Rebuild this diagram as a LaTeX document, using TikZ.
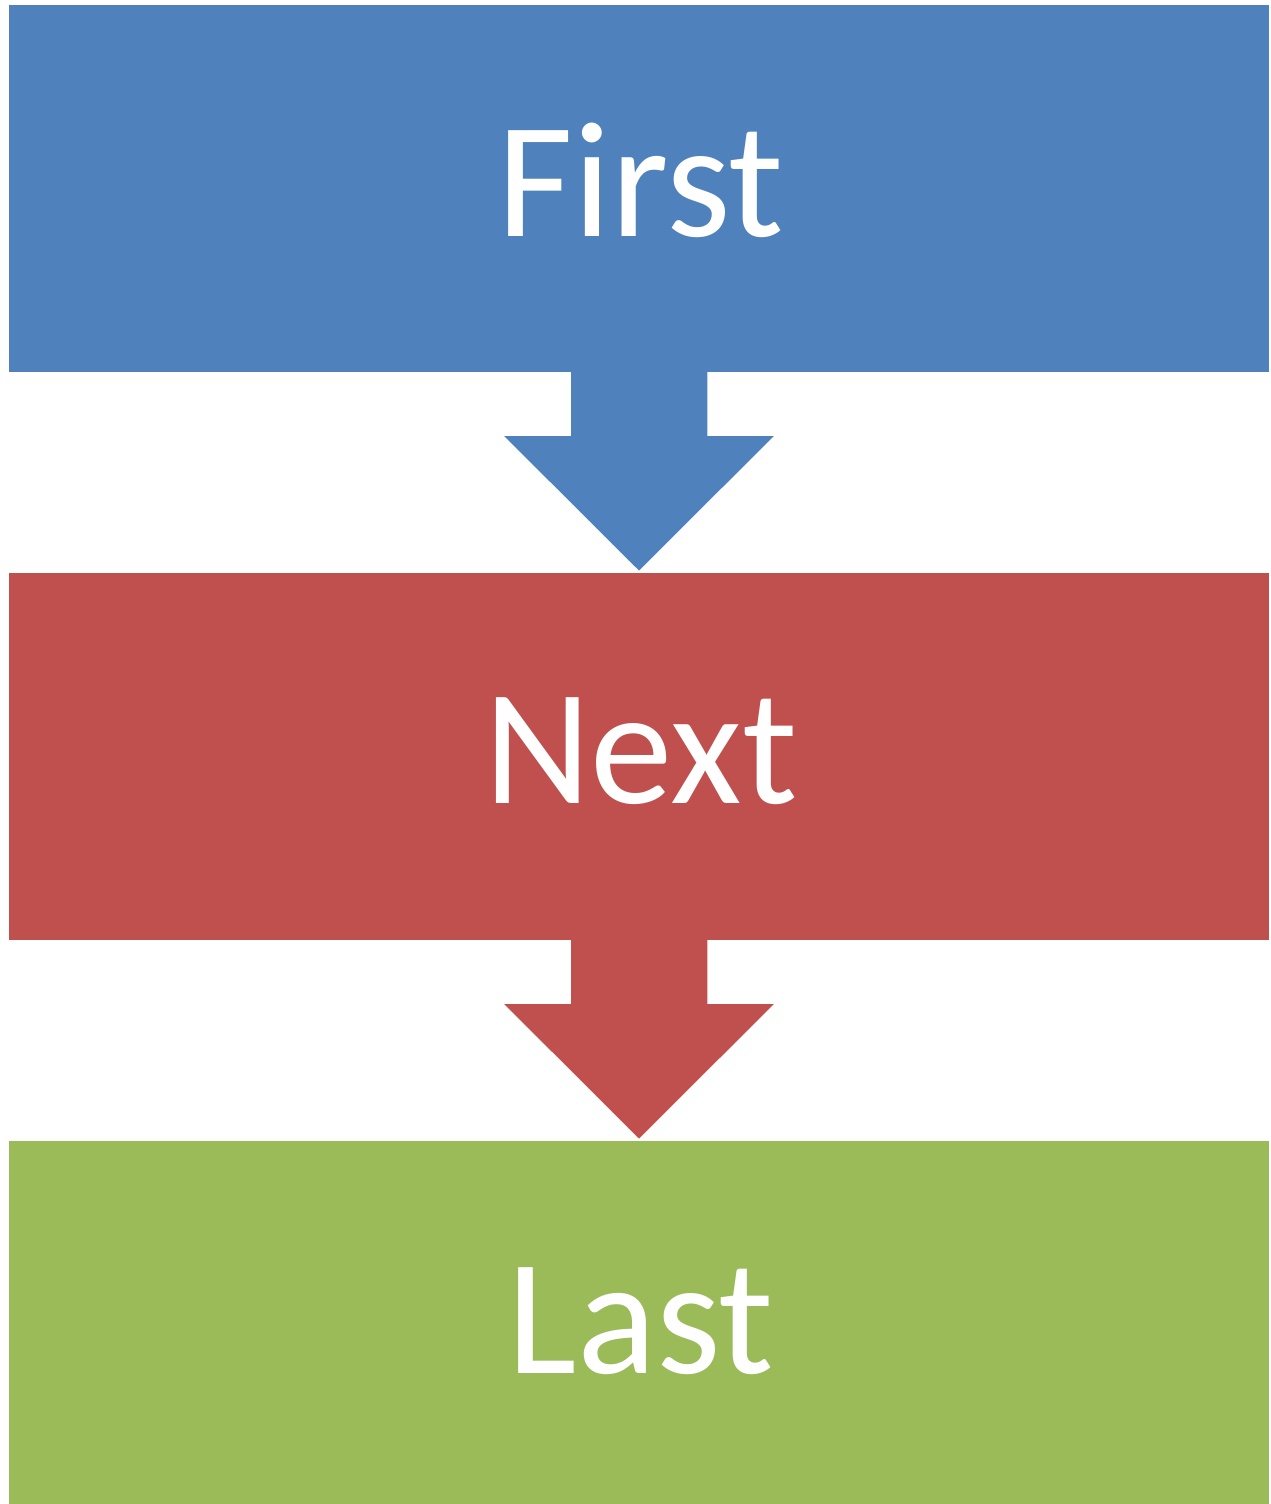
\documentclass[tikz,border=0pt]{standalone}
\usepackage{fontspec}
\setmainfont{Carlito}
\definecolor{cblue}{HTML}{4F81BD}
\definecolor{cred}{HTML}{C0504D}
\definecolor{cgreen}{HTML}{9BBB59}
\begin{document}
\begin{tikzpicture}[x=1pt,y=-1pt,
  box/.style={rectangle, draw=none, inner sep=0pt, minimum width=1260pt, minimum height=367pt},
  boxlabel/.style={anchor=base, text=white, inner sep=0pt, font=\fontsize{165}{165}\selectfont},
  flowarrow/.style={draw=white, line width=1.5pt, line join=miter}]
\useasboundingbox (0,0) rectangle (1270,1504);
\node[box, fill=cblue] (first) at (639,188.5) {};
\node[box, fill=cred] (next) at (639,756.5) {};
\node[box, fill=cgreen, minimum height=363pt] (last) at (639,1322.5) {};
\node[boxlabel] (firstlabel) at (641,236) {First};
\node[boxlabel] (nextlabel) at (641,803) {Next};
\node[boxlabel] (lastlabel) at (641,1373) {Last};
\path[flowarrow, fill=cblue]
  ([xshift=-69pt]first.south) -- ++(0,63) -- ++(-68,0) -- ([yshift=1pt]next.north) -- ([xshift=137pt,yshift=-63pt]first.south) -- ++(-68,0) -- ([xshift=69pt]first.south);
\path[flowarrow, fill=cred]
  ([xshift=-69pt]next.south) -- ++(0,63) -- ++(-68,0) -- ([yshift=1pt]last.north) -- ([xshift=137pt,yshift=-63pt]next.south) -- ++(-68,0) -- ([xshift=69pt]next.south);
\end{tikzpicture}
\end{document}
